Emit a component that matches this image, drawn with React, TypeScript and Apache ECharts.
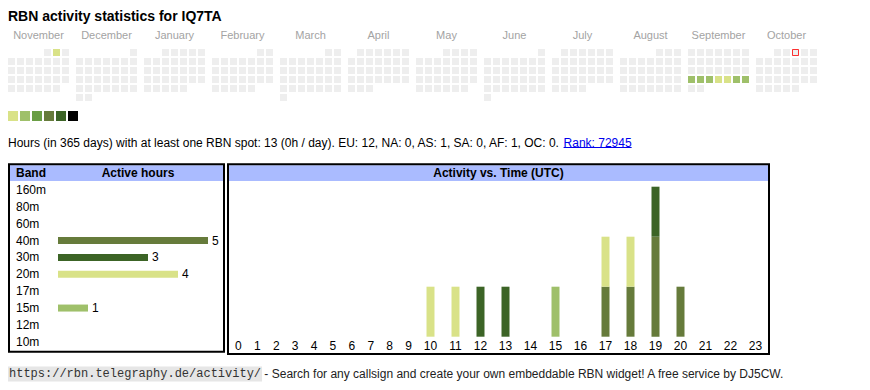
import React, { useEffect, useRef } from 'react';
import * as echarts from 'echarts';

// ---------- data ----------
const callsign = 'IQ7TA';
const monthRanges = ['2024-11', '2024-12', '2025-01', '2025-02', '2025-03', '2025-04', '2025-05', '2025-06', '2025-07', '2025-08', '2025-09', '2025-10'];
const monthNames = ['November', 'December', 'January', 'February', 'March', 'April', 'May', 'June', 'July', 'August', 'September', 'October'];
const activeDays: [string, number][] = [
  ['2024-11-02', 1],
  ['2025-09-22', 2],
  ['2025-09-23', 2],
  ['2025-09-24', 2],
  ['2025-09-25', 1],
  ['2025-09-26', 1],
  ['2025-09-27', 2],
  ['2025-09-28', 2],
];
const today = '2025-10-03';
const levelColors = ['#d9e288', '#9fc06a', '#6a9e45', '#667b3b', '#3c6426', '#000000'];
const levelMins = [1, 2, 3, 5, 9, 17];
const levelMaxs = [1, 2, 4, 8, 16, Infinity];

const bands = ['160m', '80m', '60m', '40m', '30m', '20m', '17m', '15m', '12m', '10m'];
const bandColors = ['#000000', '#3c6426', '#6a9e45', '#667b3b', '#3c6426', '#d9e288', '#6a9e45', '#9fc06a', '#667b3b', '#d9e288'];
const bandHours = [0, 0, 0, 5, 3, 4, 0, 1, 0, 0];

const hours = ['0', '1', '2', '3', '4', '5', '6', '7', '8', '9', '10', '11', '12', '13', '14', '15', '16', '17', '18', '19', '20', '21', '22', '23'];
const hourly40m = [0, 0, 0, 0, 0, 0, 0, 0, 0, 0, 0, 0, 0, 0, 0, 0, 0, 1, 1, 2, 1, 0, 0, 0];
const hourly30m = [0, 0, 0, 0, 0, 0, 0, 0, 0, 0, 0, 0, 1, 1, 0, 0, 0, 0, 0, 1, 0, 0, 0, 0];
const hourly20m = [0, 0, 0, 0, 0, 0, 0, 0, 0, 0, 1, 1, 0, 0, 0, 0, 0, 1, 1, 0, 0, 0, 0, 0];
const hourly15m = [0, 0, 0, 0, 0, 0, 0, 0, 0, 0, 0, 0, 0, 0, 0, 1, 0, 0, 0, 0, 0, 0, 0, 0];
const hourlySeries = [
  { band: '40m', data: hourly40m },
  { band: '30m', data: hourly30m },
  { band: '20m', data: hourly20m },
  { band: '15m', data: hourly15m },
];

const totalHours = 13;
const perDay = '0h';
const continents = ['EU', 'NA', 'AS', 'SA', 'AF', 'OC'];
const continentHours = [12, 0, 1, 0, 1, 0];
const rank = 72945;
const footerUrl = 'https://rbn.telegraphy.de/activity/';
const footerText = ' - Search for any callsign and create your own embeddable RBN widget! A free service by DJ5CW.';

// ---------- layout ----------
const SANS = '"Liberation Sans", Arial, Helvetica, sans-serif';
const MONO = '"Liberation Mono", "Courier New", monospace';
const CAL_LEFT = 7;
const CAL_TOP = 48;
const CAL_STEP = 68;
const CELL = 9;
const CHART_LEFT = 229;
const NARROW_COL = 18.9; // one-digit hour columns
const WIDE_COL = 25; // two-digit hour columns

function measure(text: string, font: string) {
  const ctx = document.createElement('canvas').getContext('2d');
  if (!ctx) return text.length * 6;
  ctx.font = font;
  return ctx.measureText(text).width;
}

export default function App() {
  const ref = useRef<HTMLDivElement>(null);

  useEffect(() => {
    if (!ref.current) return;
    const chart = echarts.init(ref.current, undefined, { renderer: 'svg' });

    // hour table: one-digit columns are narrower than two-digit ones
    const narrowIdx = hours.map((h, i) => (h.length < 2 ? i : -1)).filter((i) => i >= 0);
    const wideIdx = hours.map((h, i) => (h.length >= 2 ? i : -1)).filter((i) => i >= 0);
    const groups = [
      { idx: narrowIdx, left: CHART_LEFT, width: narrowIdx.length * NARROW_COL },
      { idx: wideIdx, left: CHART_LEFT + narrowIdx.length * NARROW_COL, width: wideIdx.length * WIDE_COL },
    ];

    const statsText =
      `Hours (in 365 days) with at least one RBN spot: ${totalHours} (${perDay} / day). ` +
      continents.map((c, i) => `${c}: ${continentHours[i]}`).join(', ') +
      '. ';
    const rankText = `Rank: ${rank}`;
    const statsFont = `12px ${SANS}`;
    const statsW = measure(statsText, statsFont);
    const rankW = measure(rankText, statsFont);
    const urlFont = `12px ${MONO}`;
    const urlW = measure(footerUrl, urlFont);

    const calendars = monthRanges.map((r, i) => ({
      orient: 'vertical',
      range: r,
      left: CAL_LEFT + i * CAL_STEP,
      top: CAL_TOP,
      cellSize: [CELL, CELL],
      dayLabel: { show: false, firstDay: 1 },
      monthLabel: { show: false },
      yearLabel: { show: false },
      splitLine: { show: false },
      itemStyle: { color: '#eeeeee', borderColor: '#ffffff', borderWidth: 2 },
      silent: true,
    }));

    const heatmaps = monthRanges.map((r, i) => ({
      type: 'heatmap',
      coordinateSystem: 'calendar',
      calendarIndex: i,
      data: activeDays.filter((d) => d[0].startsWith(r)),
      itemStyle: { borderWidth: 0 },
      silent: true,
    }));

    const todaySeries = {
      type: 'scatter',
      coordinateSystem: 'calendar',
      calendarIndex: monthRanges.indexOf(today.slice(0, 7)),
      data: [[today, 0]],
      symbol: 'rect',
      symbolSize: 6,
      itemStyle: { color: '#eeeeee', borderColor: '#ff0000', borderWidth: 1 },
      silent: true,
    };

    const bandSeries = {
      type: 'bar',
      xAxisIndex: 0,
      yAxisIndex: 0,
      barWidth: 7,
      data: bandHours.map((v, i) => ({ value: v, itemStyle: { color: bandColors[i] } })),
      label: {
        show: true,
        position: 'right',
        distance: 4,
        formatter: (p: any) => (p.value ? String(p.value) : ''),
        fontSize: 12,
        fontFamily: SANS,
        color: '#000',
      },
      silent: true,
    };

    const maxStack = Math.max(...hours.map((_, i) => hourlySeries.reduce((s, b) => s + b.data[i], 0)));

    const hourBars: any[] = [];
    groups.forEach((g, gi) => {
      hourlySeries.forEach((s) => {
        hourBars.push({
          type: 'bar',
          name: s.band,
          xAxisIndex: gi + 1,
          yAxisIndex: gi + 1,
          stack: 'hours' + gi,
          barWidth: 8,
          data: g.idx.map((i) => s.data[i]),
          itemStyle: { color: bandColors[bands.indexOf(s.band)] },
          silent: true,
        });
      });
    });

    const txt = (text: string, x: number, y: number, extra: any = {}) => ({
      type: 'text',
      x,
      y,
      silent: true,
      style: {
        text,
        fill: '#000',
        fontSize: 12,
        fontFamily: SANS,
        verticalAlign: 'middle',
        align: 'left',
        ...extra,
      },
    });

    const graphics: any[] = [
      txt(`RBN activity statistics for ${callsign}`, 8, 16, { fontSize: 14, fontWeight: 'bold' }),
      ...monthNames.map((m, i) =>
        txt(m, CAL_LEFT + i * CAL_STEP + (7 * CELL) / 2, 34.5, { fontSize: 11, fill: '#a3a3a3', align: 'center' })
      ),
      txt(statsText, 8, 142.5),
      txt(rankText, 8 + statsW, 142.5, { fill: '#0000ee' }),
      {
        type: 'line',
        silent: true,
        shape: { x1: 8 + statsW, y1: 147.5, x2: 8 + statsW + rankW, y2: 147.5 },
        style: { stroke: '#0000ee', lineWidth: 1 },
      },
      // left box
      { type: 'rect', silent: true, shape: { x: 10, y: 165.3, width: 213, height: 15.7 }, style: { fill: '#aabbff' } },
      { type: 'rect', silent: true, shape: { x: 9, y: 164.3, width: 215, height: 187.4 }, style: { fill: 'none', stroke: '#000', lineWidth: 2 } },
      txt('Band', 16, 173.3, { fontWeight: 'bold' }),
      txt('Active hours', 138, 173.3, { fontWeight: 'bold', align: 'center' }),
      // right box
      { type: 'rect', silent: true, shape: { x: 229, y: 165.3, width: 539, height: 15.7 }, style: { fill: '#aabbff' } },
      { type: 'rect', silent: true, shape: { x: 228, y: 164.3, width: 541, height: 189.6 }, style: { fill: 'none', stroke: '#000', lineWidth: 2 } },
      txt('Activity vs. Time (UTC)', 498.5, 173.3, { fontWeight: 'bold', align: 'center' }),
      // footer
      txt(footerUrl, 8, 374, { fontFamily: MONO, fill: '#333', backgroundColor: '#e6e6e6', padding: [2, 1, 1, 1] }),
      txt(footerText, 9 + urlW, 374, { fill: '#222' }),
    ];

    const option: any = {
      animation: false,
      calendar: calendars,
      visualMap: {
        type: 'piecewise',
        seriesIndex: heatmaps.map((_, i) => i),
        orient: 'horizontal',
        left: 8,
        top: 111,
        padding: 0,
        itemWidth: 10,
        itemHeight: 10,
        itemGap: 2,
        itemSymbol: 'rect',
        showLabel: false,
        selectedMode: false,
        hoverLink: false,
        pieces: levelColors.map((c, i) =>
          levelMaxs[i] === Infinity ? { min: levelMins[i], color: c } : { min: levelMins[i], max: levelMaxs[i], color: c }
        ),
      },
      grid: [
        { left: 58, top: 181.6, width: 150, height: 168.6 },
        ...groups.map((g) => ({ left: g.left, top: 186.7, width: g.width, height: 150 })),
      ],
      xAxis: [
        { type: 'value', gridIndex: 0, min: 0, max: 'dataMax', show: false },
        ...groups.map((g, gi) => ({
          type: 'category',
          gridIndex: gi + 1,
          data: g.idx.map((i) => hours[i]),
          axisLine: { show: false },
          axisTick: { show: false },
          splitLine: { show: false },
          axisLabel: { interval: 0, margin: 3, color: '#000', fontSize: 12, fontFamily: SANS },
        })),
      ],
      yAxis: [
        {
          type: 'category',
          gridIndex: 0,
          data: bands,
          inverse: true,
          axisLine: { show: false },
          axisTick: { show: false },
          splitLine: { show: false },
          axisLabel: { align: 'left', margin: 42, color: '#000', fontSize: 12, fontFamily: SANS },
        },
        ...groups.map((_, gi) => ({ type: 'value', gridIndex: gi + 1, min: 0, max: maxStack, show: false })),
      ],
      series: [...heatmaps, todaySeries, bandSeries, ...hourBars],
      graphic: graphics,
    };

    chart.setOption(option);
    return () => chart.dispose();
  }, []);

  return <div ref={ref} style={{ position: 'absolute', left: 0, top: 0, width: 870, height: 390 }} />;
}
